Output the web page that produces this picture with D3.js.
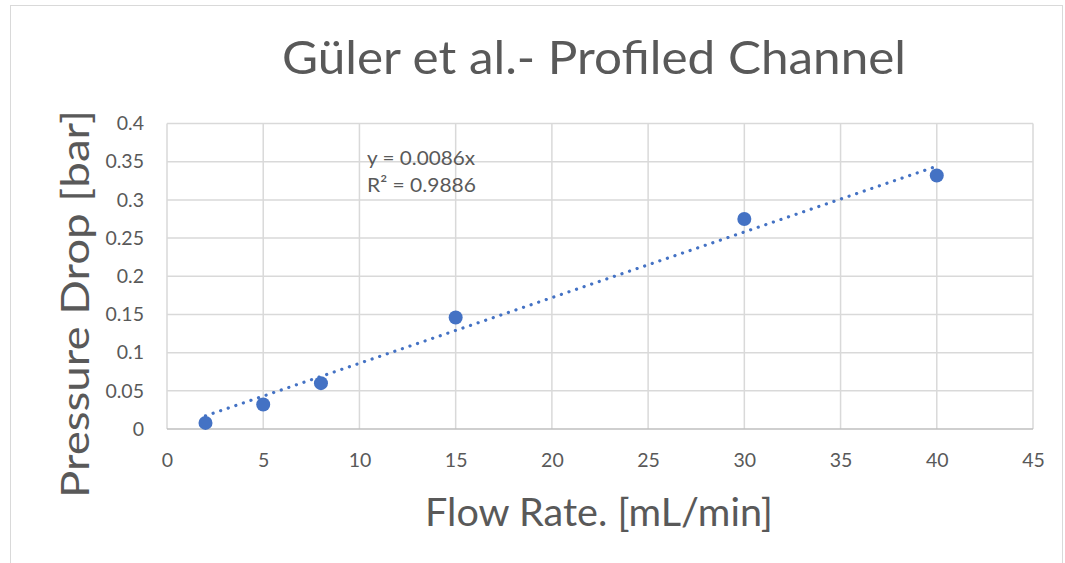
<!DOCTYPE html>
<html><head><meta charset="utf-8">
<script src="https://cdn.jsdelivr.net/npm/d3@7"></script>
<style>body{margin:0;background:#fff;} svg{display:block;}</style>
</head><body>
<svg id="c" width="1065" height="563"></svg>
<script>
const flowRate = [2, 5, 8, 15, 30, 40];
const pressureDrop = [0.008, 0.032, 0.060, 0.146, 0.275, 0.332];
const xTicks = [0, 5, 10, 15, 20, 25, 30, 35, 40, 45];
const yTicks = [0, 0.05, 0.1, 0.15, 0.2, 0.25, 0.3, 0.35, 0.4];
const slope = 0.0086;
const trendRange = [2, 40];
const title = "Güler et al.- Profiled Channel";
const xTitle = "Flow Rate. [mL/min]";
const yTitle = "Pressure Drop [bar]";
const eqLines = ["y = 0.0086x", "R² = 0.9886"];

const svg = d3.select("#c");
const font = "Lato, 'Open Sans', sans-serif";
const grey = "#595959";
svg.append("rect").attr("x",10.5).attr("y",5.5).attr("width",1052).attr("height",560)
  .attr("fill","#fff").attr("stroke","#d9d9d9");

const x = d3.scaleLinear().domain([0,45]).range([167,1033]);
const y = d3.scaleLinear().domain([0,0.4]).range([429,123.5]);

// grid
svg.append("g").selectAll("line").data(xTicks).join("line")
  .attr("x1",d=>x(d)).attr("x2",d=>x(d)).attr("y1",y(0.4)).attr("y2",y(0))
  .attr("stroke","#d9d9d9").attr("stroke-width",1.5);
svg.append("g").selectAll("line").data(yTicks).join("line")
  .attr("x1",x(0)).attr("x2",x(45)).attr("y1",d=>y(d)).attr("y2",d=>y(d))
  .attr("stroke", d=>d===0?"#bfbfbf":"#d9d9d9").attr("stroke-width",1.5);

// axes labels via d3 axis
const xAxis = svg.append("g").attr("transform",`translate(0,${y(0)})`)
  .call(d3.axisBottom(x).tickValues(xTicks).tickSize(0).tickPadding(24).tickFormat(d3.format("d")));
xAxis.select(".domain").remove();
xAxis.selectAll("text").attr("fill",grey).style("font-family",font).style("font-size","19.5px");
const yAxis = svg.append("g").attr("transform",`translate(${x(0)},0)`)
  .call(d3.axisLeft(y).tickValues(yTicks).tickSize(0).tickPadding(23).tickFormat(d=>String(+d.toFixed(2))));
yAxis.select(".domain").remove();
yAxis.selectAll("text").attr("fill",grey).style("font-family",font).style("font-size","19.5px");

// trendline
svg.append("line")
  .attr("x1",x(trendRange[0])).attr("y1",y(slope*trendRange[0]))
  .attr("x2",x(trendRange[1])).attr("y2",y(slope*trendRange[1]))
  .attr("stroke","#4472c4").attr("stroke-width",3.2).attr("stroke-linecap","round")
  .attr("stroke-dasharray","0.1 7.9");

// points
svg.append("g").selectAll("circle").data(flowRate.map((f,i)=>[f,pressureDrop[i]])).join("circle")
  .attr("cx",d=>x(d[0])).attr("cy",d=>y(d[1])).attr("r",7).attr("fill","#4472c4");

// equation
svg.append("g").selectAll("text").data(eqLines).join("text")
  .attr("x",367).attr("y",(d,i)=>165+i*27).text(d=>d)
  .attr("fill",grey).style("font-family",font).style("font-size","20px")
  .attr("textLength",(d,i)=>i===0?108:109).attr("lengthAdjust","spacingAndGlyphs");

// titles
svg.append("text").attr("x",594).attr("y",74).attr("text-anchor","middle").text(title)
  .attr("fill",grey).style("font-family",font).style("font-size","47px")
  .attr("textLength",624).attr("lengthAdjust","spacingAndGlyphs");
svg.append("text").attr("x",599).attr("y",526).attr("text-anchor","middle").text(xTitle)
  .attr("fill",grey).style("font-family",font).style("font-size","38px")
  .attr("textLength",348).attr("lengthAdjust","spacingAndGlyphs");
svg.append("text").attr("transform","translate(89,304) rotate(-90)").attr("text-anchor","middle").text(yTitle)
  .attr("fill",grey).style("font-family",font).style("font-size","38px")
  .attr("textLength",388).attr("lengthAdjust","spacingAndGlyphs");
</script>
</body></html>
